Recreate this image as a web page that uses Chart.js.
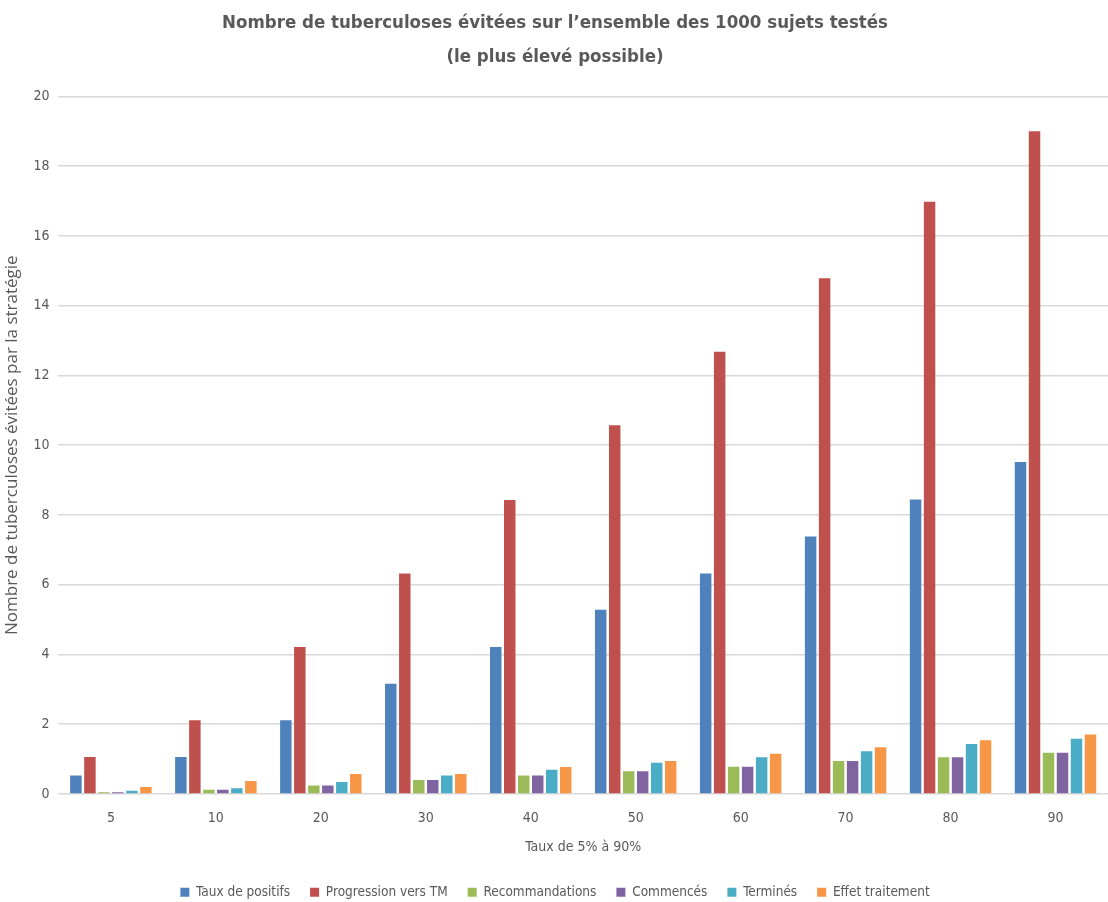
<!DOCTYPE html>
<html>
<head>
<meta charset="utf-8">
<script src="https://cdn.jsdelivr.net/npm/chart.js@4.4.1/dist/chart.umd.min.js"></script>
<style>
  html, body { margin: 0; padding: 0; background: #fff; }
  #wrap { width: 1108px; height: 902px; }
</style>
</head>
<body>
<div id="wrap"><canvas id="bar-chart" width="1108" height="902"></canvas></div>
<script>
// Taux (x axis)
const taux = ["5", "10", "20", "30", "40", "50", "60", "70", "80", "90"];

// series
const tauxPositifs   = [0.53, 1.06, 2.11, 3.16, 4.21, 5.28, 6.32, 7.38, 8.44, 9.52];
const progressionTM  = [1.06, 2.11, 4.21, 6.32, 8.43, 10.57, 12.68, 14.79, 16.98, 19.0];
const recommandation = [0.05, 0.12, 0.24, 0.40, 0.53, 0.65, 0.78, 0.94, 1.05, 1.18];
const commences      = [0.05, 0.12, 0.24, 0.40, 0.53, 0.65, 0.78, 0.94, 1.05, 1.18];
const termines       = [0.09, 0.16, 0.34, 0.53, 0.69, 0.89, 1.05, 1.22, 1.43, 1.58];
const effetTraitement = [0.20, 0.37, 0.57, 0.57, 0.77, 0.94, 1.15, 1.34, 1.54, 1.70];

const narrow = "'Liberation Sans Narrow', 'DejaVu Sans Condensed', sans-serif";
const grey = "#595959";

function serie(label, data, color) {
  return {
    label: label,
    data: data,
    backgroundColor: color,
    borderWidth: 0,
    categoryPercentage: 0.8,
    barPercentage: 0.82
  };
}

new Chart(document.getElementById("bar-chart"), {
  type: 'bar',
  data: {
    labels: taux,
    datasets: [
      serie("Taux de positifs", tauxPositifs, "#4F81BD"),
      serie("Progression vers TM", progressionTM, "#C0504D"),
      serie("Recommandations", recommandation, "#9BBB59"),
      serie("Commencés", commences, "#8064A2"),
      serie("Terminés", termines, "#4BACC6"),
      serie("Effet traitement", effetTraitement, "#F79646")
    ]
  },
  options: {
    responsive: false,
    animation: false,
    layout: { padding: { left: 2, right: 0, top: 6, bottom: -7 } },
    plugins: {
      title: {
        display: true,
        text: ["Nombre de tuberculoses évitées sur l’ensemble des 1000 sujets testés", "(le plus élevé possible)"],
        color: grey,
        font: { family: narrow, size: 18.5, weight: 'bold', lineHeight: 1.85 },
        padding: { top: 0, bottom: 22 }
      },
      legend: {
        position: 'bottom',
        labels: {
          color: grey,
          font: { family: narrow, size: 13.5 },
          boxWidth: 9,
          boxHeight: 9,
          padding: 20
        }
      },
      tooltip: { enabled: false }
    },
    scales: {
      x: {
        grid: { display: false },
        border: { display: false },
        ticks: { color: grey, font: { family: narrow, size: 14 }, padding: 8 },
        title: {
          display: true,
          text: "Taux de 5% à 90%",
          color: grey,
          font: { family: narrow, size: 14 },
          padding: { top: 4, bottom: 10 }
        }
      },
      y: {
        min: 0,
        max: 20,
        ticks: { stepSize: 2, color: grey, font: { family: narrow, size: 14 }, padding: 9 },
        grid: { color: "#d9d9d9", lineWidth: 1.5, drawTicks: false },
        border: { display: false },
        title: {
          display: true,
          text: "Nombre de tuberculoses évitées par la stratégie",
          color: grey,
          font: { family: "'Open Sans', sans-serif", size: 17 },
          padding: { top: 0, bottom: 2 }
        }
      }
    }
  }
});
</script>
</body>
</html>
